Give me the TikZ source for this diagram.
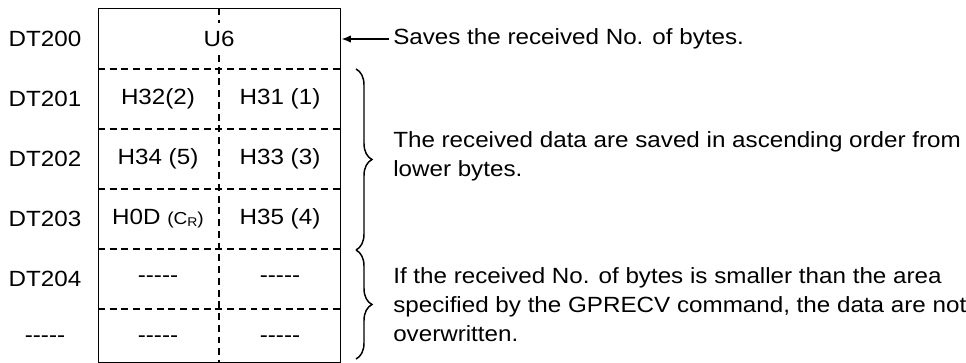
\documentclass[tikz,border=0pt]{standalone}
\usepackage{fontspec}
\setmainfont{Liberation Sans}[Ligatures=TeXOff, FakeStretch=1.1]
\usetikzlibrary{arrows.meta,decorations.pathreplacing}
\begin{document}
\begin{tikzpicture}[x=0.75pt,y=-0.75pt,
  txt/.style={font=\fontsize{16.5}{19.8}\selectfont, inner sep=0pt},
  cell/.style={txt, fill=white, inner sep=2pt},
  para/.style={font=\fontsize{16.5}{21.75}\selectfont, inner sep=0pt, align=left, anchor=west},
  dsh/.style={line width=1.1pt, dash pattern=on 5.2pt off 3.6pt},
  brc/.style={line width=1.1pt, decorate, decoration={brace, amplitude=12pt}},
  arr/.style={line width=1.1pt, -{Latex[length=7pt,width=5.5pt]}}]
\useasboundingbox (0,0) rectangle (966,362);
% box
\node (box) [draw, line width=1.1pt, anchor=north west, minimum width=242*0.75pt, minimum height=353.5*0.75pt, inner sep=0pt] at (98,8) {};
% grid
\foreach \yy in {69,129,189,249,309} \draw[dsh] (98,\yy) -- (340,\yy);
\draw[dsh] (219,8) -- (219,361.5);
% row labels
\node[txt] (l0) at (45,39) {DT200};
\node[txt] (l1) at (45,99) {DT201};
\node[txt] (l2) at (45,159) {DT202};
\node[txt] (l3) at (45,219) {DT203};
\node[txt] (l4) at (45,279) {DT204};
\node[txt] (l5) at (45,339) {-----};
% cells
\node[cell, inner sep=6pt] (u6) at (219,39) {U6};
\node[txt] (c1a) at (158,99) {H32(2)};
\node[txt] (c1b) at (280,99) {H31 (1)};
\node[txt] (c2a) at (158,159) {H34 (5)};
\node[txt] (c2b) at (280,159) {H33 (3)};
\node[txt] (c3a) at (158,219) {H0D {\fontsize{13}{15}\selectfont (C\raisebox{-1pt}{\fontsize{9.5}{11}\selectfont R})}};
\node[txt] (c3b) at (280,219) {H35 (4)};
\node[txt] (c4a) at (158,279) {-----};
\node[txt] (c4b) at (280,279) {-----};
\node[txt] (c5a) at (158,339) {-----};
\node[txt] (c5b) at (280,339) {-----};
% annotations
\node[para] (t0) at (393,39) {Saves the received No. of bytes.};
\draw[arr] (t0.west) ++(-4,0) coordinate (a0) (a0) -- (box.east |- t0.west);
\node[para] (t1) at (393,156) {The received data are saved in ascending order from\\lower bytes.};
\node[para] (t2) at (393,305) {If the received No. of bytes is smaller than the area\\specified by the GPRECV command, the data are not\\overwritten.};
\coordinate (b0) at (356,69);
\coordinate (b1) at (356,250);
\coordinate (b2) at (356,359);
\draw[brc] (b0) -- (b1);
\draw[brc] (b1) -- (b2);
\end{tikzpicture}
\end{document}
